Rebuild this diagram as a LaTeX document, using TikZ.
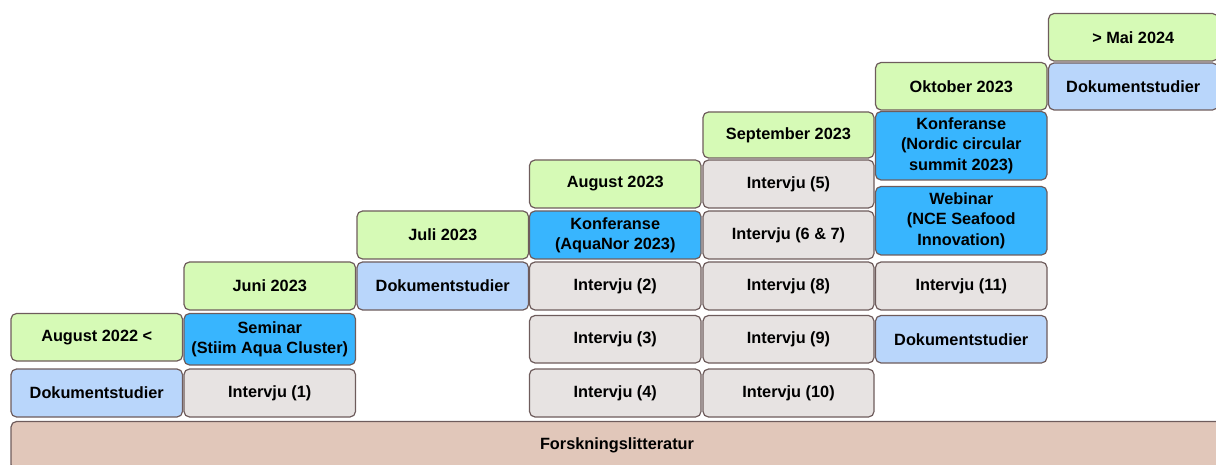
\documentclass[tikz,border=0pt]{standalone}
\usepackage{fontspec}
\setmainfont{Liberation Sans}
\definecolor{edge}{HTML}{6E5C5C}
\definecolor{monthgreen}{HTML}{D6FAB6}
\definecolor{docblue}{HTML}{B9D6FB}
\definecolor{eventblue}{HTML}{38B5FE}
\definecolor{intgrey}{HTML}{E7E3E2}
\definecolor{litbrown}{HTML}{E1C7BA}
\tikzset{
  cell/.style={draw=edge, line width=1.2pt, rounded corners=5.5pt, inner sep=0pt,
    align=center, font=\fontsize{16.3}{20.2}\selectfont\bfseries},
  month/.style={cell, fill=monthgreen},
  docs/.style={cell, fill=docblue},
  event/.style={cell, fill=eventblue},
  interview/.style={cell, fill=intgrey},
  literature/.style={cell, fill=litbrown},
}
% \cellbox{name}{x1}{y1}{x2}{y2}{style}{text}
\newcommand{\cellbox}[7]{%
  \node[#6, minimum width={(#4)-(#2)}, minimum height={(#5)-(#3)}]
    (#1) at ({((#2)+(#4))/2},{((#3)+(#5))/2}) {#7};}
\begin{document}
\begin{tikzpicture}[x=1pt,y=-1pt]
\clip (0,0) rectangle (1216,465);
% column 1
\cellbox{m1}{11}{313.5}{182.5}{361}{month}{August 2022 <}
\cellbox{d1}{11}{369}{182.5}{417}{docs}{Dokumentstudier}
% column 2
\cellbox{m2}{184}{262}{355.5}{310}{month}{Juni 2023}
\cellbox{e2}{184}{313.5}{355.5}{365}{event}{Seminar\\(Stiim Aqua Cluster)}
\cellbox{i1}{184}{369}{355.5}{417}{interview}{Intervju (1)}
% column 3
\cellbox{m3}{357}{211}{528.5}{259}{month}{Juli 2023}
\cellbox{d3}{357}{262}{528.5}{310}{docs}{Dokumentstudier}
% column 4
\cellbox{m4}{529.5}{160}{701}{208}{month}{August 2023}
\cellbox{e4}{529.5}{211}{701}{259}{event}{Konferanse\\(AquaNor 2023)}
\cellbox{i2}{529.5}{262}{701}{310}{interview}{Intervju (2)}
\cellbox{i3}{529.5}{315.5}{701}{363}{interview}{Intervju (3)}
\cellbox{i4}{529.5}{369}{701}{417}{interview}{Intervju (4)}
% column 5
\cellbox{m5}{703}{112}{874}{158}{month}{September 2023}
\cellbox{i5}{703}{160}{874}{208}{interview}{Intervju (5)}
\cellbox{i67}{703}{211}{874}{259}{interview}{Intervju (6 \& 7)}
\cellbox{i8}{703}{262}{874}{310}{interview}{Intervju (8)}
\cellbox{i9}{703}{315.5}{874}{363}{interview}{Intervju (9)}
\cellbox{i10}{703}{369}{874}{417}{interview}{Intervju (10)}
% column 6
\cellbox{m6}{875.5}{62.5}{1047}{110}{month}{Oktober 2023}
\cellbox{e6a}{875.5}{111.5}{1047}{180}{event}{Konferanse\\(Nordic circular\\summit 2023)}
\cellbox{e6b}{875.5}{186.5}{1047}{255}{event}{Webinar\\(NCE Seafood\\Innovation)}
\cellbox{i11}{875.5}{262}{1047}{310}{interview}{Intervju (11)}
\cellbox{d6}{875.5}{315.5}{1047}{363}{docs}{Dokumentstudier}
% column 7
\cellbox{m7}{1048.5}{13.5}{1218}{61}{month}{> Mai 2024}
\cellbox{d7}{1048.5}{63}{1218}{110}{docs}{Dokumentstudier}
% research literature base
\cellbox{lit}{11}{421.5}{1223}{470}{literature}{Forskningslitteratur}
\end{tikzpicture}
\end{document}
